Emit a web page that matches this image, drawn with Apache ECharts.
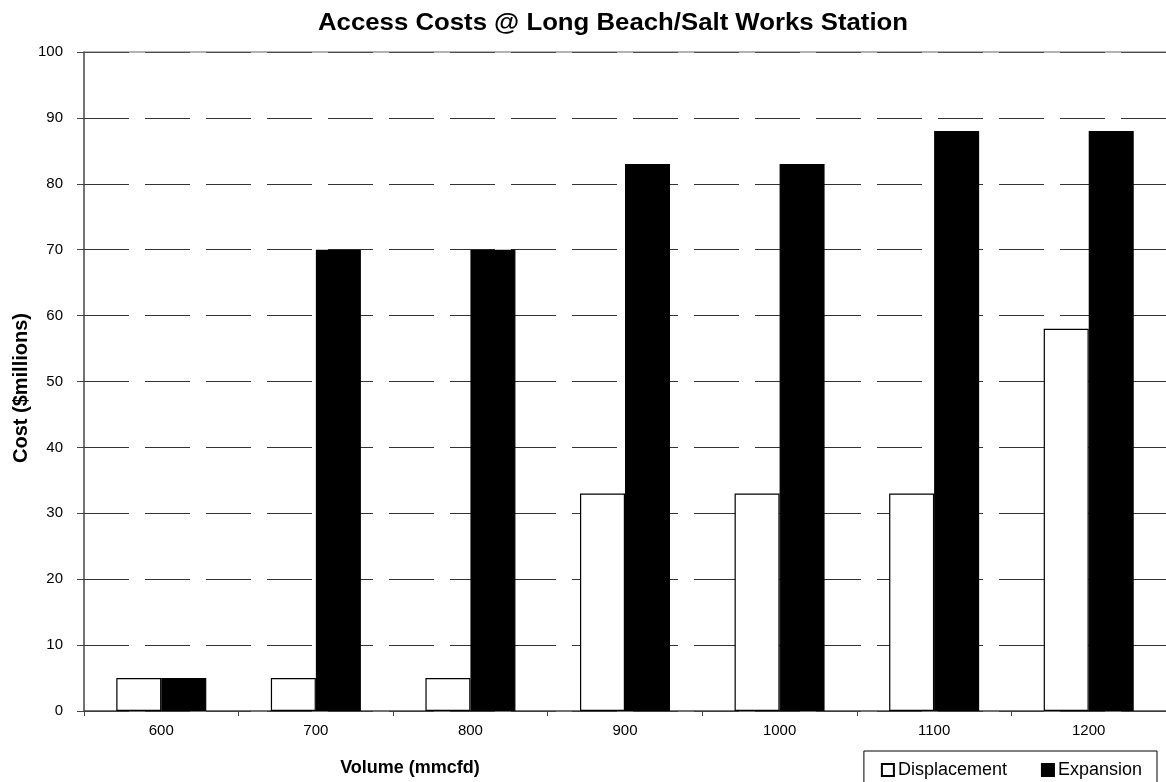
<!DOCTYPE html>
<html>
<head>
<meta charset="utf-8">
<script src="https://cdn.jsdelivr.net/npm/echarts@6/dist/echarts.min.js"></script>
<style>
  html, body { margin: 0; padding: 0; background: #fff; }
  #chart { width: 1166px; height: 782px; }
</style>
</head>
<body>
<div id="chart"></div>
<script>
// Access cost per volume level, in $ millions
const volumes = ['600', '700', '800', '900', '1000', '1100', '1200'];
const displacement = [5, 5, 5, 33, 33, 33, 58];
const expansion = [5, 70, 70, 83, 83, 88, 88];
const yTicks = [0, 10, 20, 30, 40, 50, 60, 70, 80, 90, 100];

const chart = echarts.init(document.getElementById('chart'), null, { renderer: 'canvas' });

const font = 'Arial, "Liberation Sans", Helvetica, sans-serif';

chart.setOption({
  animation: false,
  backgroundColor: '#ffffff',
  legend: {
    right: 9,
    top: 751,
    data: ['Displacement', 'Expansion'],
    itemWidth: 12,
    itemHeight: 12,
    itemGap: 34,
    padding: [10, 15, 10, 17],
    borderColor: '#000',
    borderWidth: 1,
    icon: 'rect',
    textStyle: { fontFamily: font, fontSize: 18, color: '#000', padding: [0, 0, 0, -1] }
  },
  grid: {
    left: 84,
    top: 52,
    width: 1092,
    bottom: 71,
    containLabel: false
  },
  xAxis: {
    type: 'category',
    data: volumes,
    axisLine: { lineStyle: { color: '#444', width: 1.5 } },
    axisTick: { show: true, length: 5, lineStyle: { color: '#444' } },
    axisLabel: { fontFamily: font, fontSize: 15, color: '#000', margin: 12 }
  },
  yAxis: {
    type: 'value',
    min: yTicks[0],
    max: yTicks[yTicks.length - 1],
    interval: 10,
    axisLine: { show: true, lineStyle: { color: '#444', width: 1.5 } },
    axisTick: { show: true, length: 7, inside: false, lineStyle: { color: '#444' } },
    axisLabel: { fontFamily: font, fontSize: 15, color: '#000', margin: 21 },
    splitLine: {
      show: true,
      lineStyle: { color: '#333', width: 1, type: [45, 16] }
    }
  },
  graphic: [
    {
      // solid frame line along the top of the plot
      type: 'line',
      shape: { x1: 84, y1: 52, x2: 1166, y2: 52 },
      style: { stroke: '#666', lineWidth: 1 },
      z: 10
    },
    {
      type: 'text',
      x: 318,
      y: 24,
      scaleX: 1.12,
      style: {
        text: 'Access Costs @ Long Beach/Salt Works Station',
        font: 'bold 23px ' + font,
        fill: '#000',
        textAlign: 'left',
        textVerticalAlign: 'middle'
      }
    },
    {
      type: 'text',
      x: 410,
      y: 768,
      style: {
        text: 'Volume (mmcfd)',
        font: 'bold 18px ' + font,
        fill: '#000',
        textAlign: 'center',
        textVerticalAlign: 'middle'
      }
    },
    {
      type: 'text',
      x: 21,
      y: 388,
      rotation: Math.PI / 2,
      style: {
        text: 'Cost ($millions)',
        font: 'bold 20px ' + font,
        fill: '#000',
        textAlign: 'center',
        textVerticalAlign: 'middle'
      }
    }
  ],
  series: [
    {
      name: 'Displacement',
      type: 'bar',
      data: displacement,
      barWidth: 45,
      barGap: '0%',
      itemStyle: { color: '#ffffff', borderColor: '#000', borderWidth: 1.2 }
    },
    {
      name: 'Expansion',
      type: 'bar',
      data: expansion,
      barWidth: 45,
      barGap: '0%',
      itemStyle: { color: '#000000', borderColor: '#000', borderWidth: 1.2 }
    }
  ]
});
</script>
</body>
</html>
